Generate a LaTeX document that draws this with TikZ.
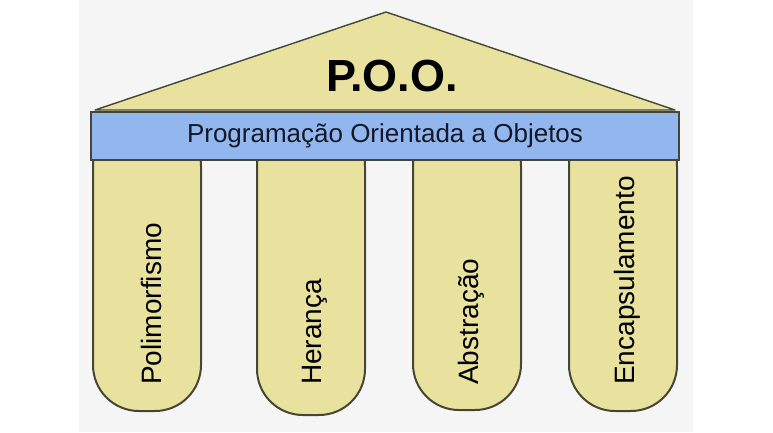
\documentclass[tikz,border=0pt]{standalone}
\usepackage{fontspec}
\setmainfont{Liberation Sans}
\usepackage{xcolor}

\definecolor{roofyellow}{RGB}{233,226,158}
\definecolor{bandblue}{RGB}{145,183,238}
\definecolor{edgegray}{RGB}{70,70,55}
\definecolor{backgray}{RGB}{245,245,246}
\definecolor{textdark}{RGB}{20,24,40}

\begin{document}
\begin{tikzpicture}[x=1pt, y=-1pt,
  roof/.style={fill=roofyellow, draw=edgegray, line width=1.4pt, line join=round},
  pillar/.style={fill=roofyellow, draw=edgegray, line width=2pt, rounded corners=46pt},
  band/.style={draw=edgegray, line width=1.8pt, fill=bandblue, rectangle,
    minimum width=588pt, minimum height=48pt, inner sep=0pt, text=textdark,
    font=\fontsize{26}{28}\selectfont},
  pillarlabel/.style={rotate=90, anchor=west, inner sep=0pt,
    font=\fontsize{28}{30}\selectfont}]
  \useasboundingbox (0,0) rectangle (773,432);
  \fill[backgray] (79,0) rectangle (693,432);

  % Define roof
  \draw[roof] (95,110) -- (386,12) -- (675,110) -- cycle;
  \node[font=\fontsize{45}{50}\selectfont\bfseries] (title) at (392,76) {P.O.O.};

  % Pillars with their labels
  \foreach \x/\b/\nm/\txt in {93/411/poli/Polimorfismo, 257/415/her/Herança,
      413/410/abs/Abstração, 569/411/enc/Encapsulamento} {
    \draw[pillar] (\x,120) -- (\x,\b) -- (\x+108,\b) -- (\x+108,120) -- cycle;
    \node[pillarlabel] (\nm) at (\x+58,385) {\txt};
  }

  % Band across the pillars
  \node[band] (band) at (385,136) {Programação Orientada a Objetos};
\end{tikzpicture}
\end{document}
